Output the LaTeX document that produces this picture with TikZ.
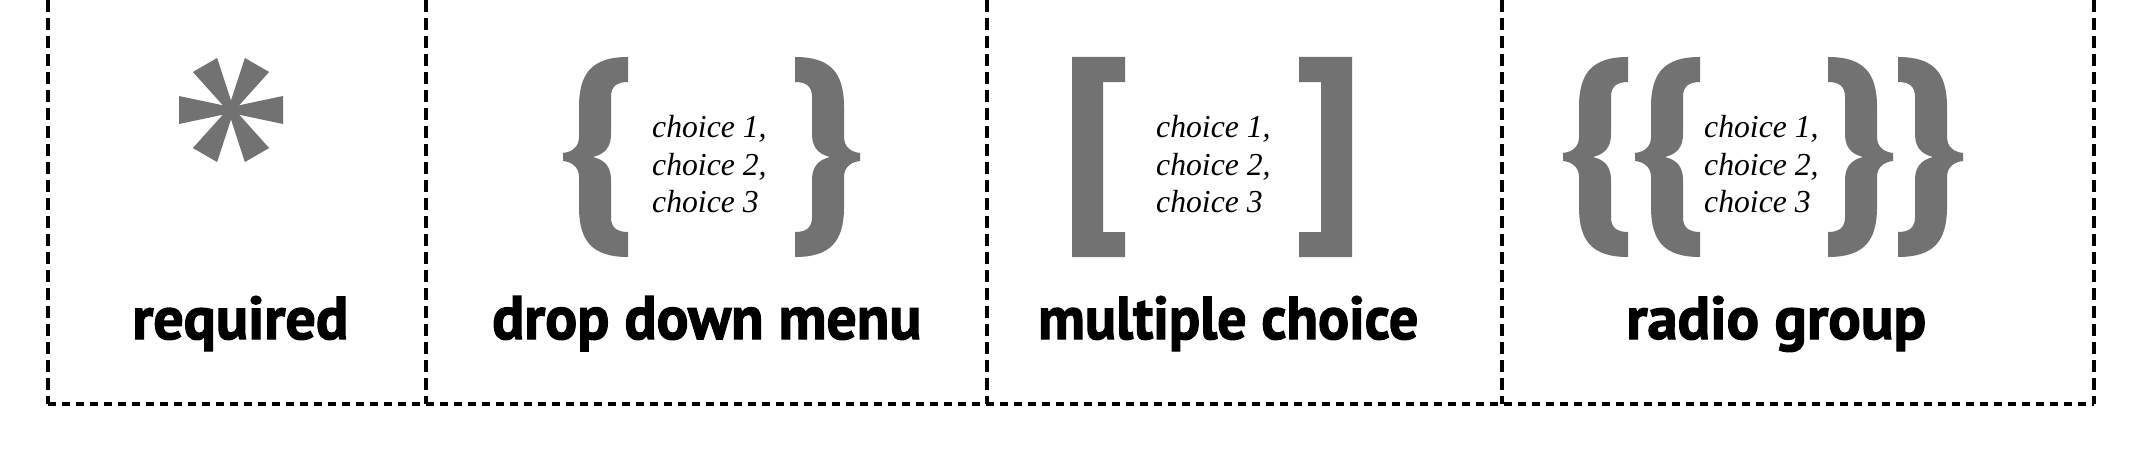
\documentclass[tikz,border=0pt]{standalone}
\usepackage{fontspec}
\setmainfont{Liberation Serif}
\newfontfamily\labelfont{PT Sans}[BoldFeatures={FakeBold=2}]
\newfontfamily\choicefont{Liberation Serif}
\definecolor{glyphgray}{HTML}{727272}
\tikzset{
  vdash/.style={line width=3.1pt, dash pattern=on 12pt off 6pt},
  hdash/.style={line width=3.1pt, dash pattern=on 8pt off 6pt},
  lbrace/.pic={\fill[glyphgray] (65,0) .. controls (30,0) and (16,15) .. (16,50) -- (16,80)
     .. controls (16,90) and (9,95) .. (0,96) -- (0,104) .. controls (9,105) and (16,110) .. (16,120)
     -- (16,150) .. controls (16,185) and (30,200) .. (65,200) -- (65,175)
     .. controls (53,175) and (48,170) .. (48,160) -- (48,123) .. controls (48,110) and (42,103) .. (30,100)
     .. controls (42,97) and (48,90) .. (48,77) -- (48,40) .. controls (48,30) and (53,25) .. (65,25) -- cycle;},
  lbracket/.pic={\fill[glyphgray] (0,0) -- (53,0) -- (53,25) -- (31,25) -- (31,175) -- (53,175)
     -- (53,200) -- (0,200) -- cycle;},
  lbltext/.style={anchor=base west, inner sep=0pt, font=\labelfont\bfseries},
  choicetext/.style={anchor=base west, inner sep=0pt},
}
\newcommand\lbl[2]{\resizebox{#1pt}{43pt}{#2}}
\newcommand\chc[1]{\scalebox{0.99}[1]{\fontsize{32}{38}\selectfont\choicefont\itshape #1}}
\begin{document}
\begin{tikzpicture}[x=1pt,y=-1pt]
\useasboundingbox (0,0) rectangle (2132,460);
% frame
\coordinate (tl) at (48,0);
\coordinate (bl) at (48,404);
\coordinate (br) at (2094,404);
\coordinate (tr) at (2094,0);
\draw[vdash] (tl) -- (bl);
\draw[vdash] (tr) -- (br);
\draw[hdash] (bl) -- (br);
\foreach \xx/\nm in {426/d1,987/d2,1502/d3}{
  \coordinate (\nm t) at (\xx,0);
  \coordinate (\nm b) at (\xx,404);
  \draw[vdash] (\nm t) -- (\nm b);
}
% asterisk
\foreach \a in {0,60,...,300}
  \fill[glyphgray, rotate around={\a:(231,110)}] (231,107) -- (283,96) -- (283,124) -- (231,113) -- cycle;
% drop down
\pic at (563,57) {lbrace};
\pic[xscale=-1] at (860,57) {lbrace};
\node[choicetext] (dd1) at (652,137) {\chc{choice 1,}};
\node[choicetext] (dd2) at (652,175) {\chc{choice 2,}};
\node[choicetext] (dd3) at (652,212) {\chc{choice 3}};
% multiple choice
\pic at (1072,57) {lbracket};
\pic[xscale=-1] at (1352,57) {lbracket};
\node[choicetext] (mc1) at (1156,137) {\chc{choice 1,}};
\node[choicetext] (mc2) at (1156,175) {\chc{choice 2,}};
\node[choicetext] (mc3) at (1156,212) {\chc{choice 3}};
% radio group
\pic at (1563,57) {lbrace};
\pic at (1635,57) {lbrace};
\pic[xscale=-1] at (1893,57) {lbrace};
\pic[xscale=-1] at (1963,57) {lbrace};
\node[choicetext] (rg1) at (1704,137) {\chc{choice 1,}};
\node[choicetext] (rg2) at (1704,175) {\chc{choice 2,}};
\node[choicetext] (rg3) at (1704,212) {\chc{choice 3}};
% labels
\node[lbltext] (lreq) at (132,339) {\lbl{216}{required}};
\node[lbltext] (ldd) at (492,339) {\lbl{429}{drop down menu}};
\node[lbltext] (lmc) at (1038,339) {\lbl{380}{multiple choice}};
\node[lbltext] (lrg) at (1626,339) {\lbl{300}{radio group}};
\end{tikzpicture}
\end{document}
